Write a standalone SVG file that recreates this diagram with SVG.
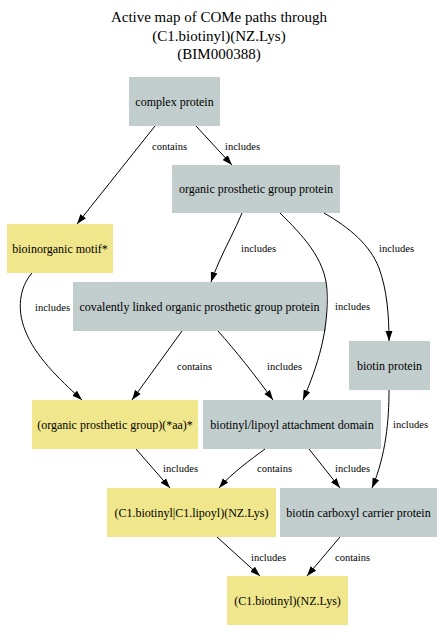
<svg xmlns="http://www.w3.org/2000/svg" width="440" height="641" viewBox="0 0 440 641">
<style>
.title{font-family:"Liberation Serif","Times New Roman",serif;font-size:15px;fill:#000;text-anchor:middle}
.nt{font-family:"Liberation Serif","Times New Roman",serif;font-size:12px;fill:#000;text-anchor:middle}
.el{font-family:"Liberation Serif","Times New Roman",serif;font-size:10.5px;fill:#000}
.g{fill:#c2cdcd}
.y{fill:#f0e68c}
.e{fill:none;stroke:#000;stroke-width:1;marker-end:url(#arr)}
</style>
<defs>
<marker id="arr" markerUnits="userSpaceOnUse" markerWidth="10" markerHeight="8" refX="10" refY="3.5" orient="auto" viewBox="0 0 10 7">
<path d="M0,0 L10,3.5 L0,7 z" fill="#000"/>
</marker>
</defs>
<rect width="440" height="641" fill="#fff"/>
<g id="title">
<text class="title" x="219" y="22">Active map of COMe paths through</text>
<text class="title" x="219" y="40.5">(C1.biotinyl)(NZ.Lys)</text>
<text class="title" x="219" y="59">(BIM000388)</text>
</g>
<g id="n1"><rect class="g" x="129" y="77" width="91" height="49"/><text class="nt" x="174.5" y="105.5">complex protein</text></g>
<g id="n2"><rect class="g" x="172" y="165" width="168" height="48"/><text class="nt" x="256" y="193">organic prosthetic group protein</text></g>
<g id="n3"><rect class="y" x="7" y="224" width="106" height="49"/><text class="nt" x="60" y="252.5">bioinorganic motif*</text></g>
<g id="n4"><rect class="g" x="73" y="282" width="253" height="49"/><text class="nt" x="199.5" y="310.5">covalently linked organic prosthetic group protein</text></g>
<g id="n5"><rect class="g" x="349" y="341" width="81" height="49"/><text class="nt" x="389.5" y="369.5">biotin protein</text></g>
<g id="n6"><rect class="y" x="32" y="400" width="166" height="49"/><text class="nt" x="115" y="428.5">(organic prosthetic group)(*aa)*</text></g>
<g id="n7"><rect class="g" x="203" y="400" width="178" height="49"/><text class="nt" x="292" y="428.5">biotinyl/lipoyl attachment domain</text></g>
<g id="n8"><rect class="y" x="107" y="488" width="169" height="49"/><text class="nt" x="191.5" y="516.5">(C1.biotinyl|C1.lipoyl)(NZ.Lys)</text></g>
<g id="n9"><rect class="g" x="280" y="488" width="157" height="49"/><text class="nt" x="358.5" y="516.5">biotin carboxyl carrier protein</text></g>
<g id="n10"><rect class="y" x="227" y="576" width="121" height="49"/><text class="nt" x="287.5" y="604.5">(C1.biotinyl)(NZ.Lys)</text></g>
<g id="edges">
<path class="e" d="M155,126 L77,224"/>
<path class="e" d="M196,126 L232,165"/>
<path class="e" d="M242,213 C235,230 226,246 219,262 C216,269 213,276 211,282"/>
<path class="e" d="M280,213 C302,235 325,258 327,290 C329,330 318,365 303,400"/>
<path class="e" d="M324,213 C350,228 370,245 379,268 C387,290 389,315 389,341"/>
<path class="e" d="M32,273 C19,288 17,310 25,330 C35,356 58,378 82,400"/>
<path class="e" d="M182,331 L132,400"/>
<path class="e" d="M218,331 C235,350 255,375 273,400"/>
<path class="e" d="M389,390 C389,420 386,455 372,488"/>
<path class="e" d="M136,449 L170,488"/>
<path class="e" d="M265,449 C250,460 232,473 219,488"/>
<path class="e" d="M309,449 L340,488"/>
<path class="e" d="M217,537 L260,576"/>
<path class="e" d="M340,537 L307,576"/>
<text class="el" x="152" y="149.5">contains</text>
<text class="el" x="225" y="149.5">includes</text>
<text class="el" x="241" y="252">includes</text>
<text class="el" x="379" y="252">includes</text>
<text class="el" x="35" y="310.5">includes</text>
<text class="el" x="335" y="310">includes</text>
<text class="el" x="177" y="369.5">contains</text>
<text class="el" x="267" y="369.5">includes</text>
<text class="el" x="393" y="428">includes</text>
<text class="el" x="163" y="472">includes</text>
<text class="el" x="257" y="472">contains</text>
<text class="el" x="335" y="472">includes</text>
<text class="el" x="251" y="560.5">includes</text>
<text class="el" x="335" y="560.5">contains</text>
</g>
</svg>
